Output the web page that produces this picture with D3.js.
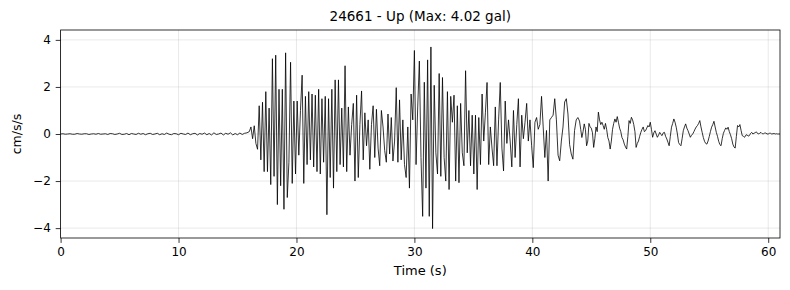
<!DOCTYPE html>
<html>
<head>
<meta charset="utf-8">
<script src="https://cdn.jsdelivr.net/npm/d3@7"></script>
<style>
  body { margin: 0; background: #fff; }
  svg text { font-family: "DejaVu Sans", sans-serif; fill: #000; }
</style>
</head>
<body>
<svg width="790" height="290"></svg>
<script>
// station / component shown in the title
var station = "24661", component = "Up", maxGal = 4.02;

// quiet pre-event noise, 0 - 16 s
var quietStart = 0, quietStep = 0.2;
var quietValues = [
  0.0, 0.01, -0.01, 0.0, 0.01, -0.01, -0.01, 0.02, 0.0, -0.01,
  0.01, 0.01, -0.02, 0.0, 0.01, -0.01, 0.02, -0.01, 0.0, 0.01,
  -0.02, 0.02, 0.01, -0.02, 0.0, 0.03, -0.02, -0.01, 0.02, -0.03,
  0.02, 0.0, -0.02, 0.03, -0.01, 0.02, -0.03, 0.01, 0.03, -0.02,
  0.0, 0.03, -0.03, 0.01, -0.02, 0.04, -0.01, -0.03, 0.02, 0.01,
  -0.03, 0.03, 0.0, -0.02, 0.04, -0.03, 0.01, 0.03, -0.04, 0.02,
  -0.01, 0.04, -0.03, 0.02, -0.04, 0.05, -0.02, 0.0, 0.04, -0.04,
  0.03, -0.01, 0.05, -0.04, 0.02, -0.03, 0.04, -0.02, 0.03, 0.05
];

// strong shaking, 16 - 44 s
var strongStart = 16, strongStep = 0.14;
var strongValues = [
  0.1, 0.3, -0.2, 0.35, -0.4, -0.65, 1.2, -1.1, 1.35, -1.6,
  1.8, -1.6, 1.1, -2.15, 3.2, -1.8, 3.35, -3.0, 1.9, -2.2,
  1.9, -3.2, 3.45, -2.7, -1.2, 3.05, -2.1, 1.4, -1.7, 1.4,
  -0.9, 1.0, 2.5, -2.1, 1.6, -1.3, 1.8, -1.1, 1.7, -1.4,
  1.65, -1.6, 1.9, -1.7, 1.5, -1.2, 1.6, -3.43, 1.5, -1.85,
  1.9, -2.3, 2.3, -1.6, 2.3, -1.3, 1.1, -1.4, 2.9, -1.6,
  1.15, -0.9, 0.4, 1.3, -2.0, 1.65, -1.85, 0.4, 1.83, -1.1,
  0.9, -0.5, 0.6, -1.5, 0.4, 1.2, -1.0, 1.05, -0.6, -1.35,
  1.0, 0.3, -0.7, -1.2, 0.85, -0.85, 0.7, -1.15, -0.3, 1.97,
  -1.2, 1.45, -1.1, 0.6, -1.3, -1.85, 0.3, -2.3, 1.7, 0.6,
  3.55, -1.3, 1.15, 3.1, -1.0, -3.5, 2.2, -2.3, 3.15, -3.5,
  3.7, -4.02, 2.07, -0.8, -1.7, 2.57, -1.8, 2.4, -1.0, -2.0,
  1.8, -2.36, 1.6, 0.5, 1.65, -2.0, 1.2, -2.07, 1.3, -0.8,
  -1.35, 2.69, -0.8, 1.0, -1.35, 0.8, -1.7, 0.8, -2.36, 0.7,
  -1.3, 1.7, -0.3, 0.9, 2.19, -1.3, 0.3, -0.6, -1.35, 1.15,
  -1.35, 0.6, 2.19, -0.6, -1.57, 1.4, -0.4, 0.6, -0.3, -1.4,
  1.0, -1.0, 0.4, 1.5, -1.4, 0.8, -0.2, 0.5, 1.3, -0.3,
  0.6, -0.5, -1.43, 0.5, 0.7, 0.2, 0.4, 1.6, 0.3, -1.0,
  0.15, -2.0, 0.6, 0.7, 0.8, 1.5, 0.6, -0.9, -1.14, -0.3,
  0.3, 1.36, 1.5, 0.85, -0.45, -0.85, -1.07, 0.15, 0.6, 0.7,
  0.55
];

// coda, 44.1 - 61 s
var codaStart = 44.1, codaStep = 0.1;
var codaValues = [
  0.2, -0.15, 0.1, 0.43, 0.2, -0.5, -0.3, 0.45, 0.3, 0.25,
  0.05, -0.57, -0.2, 0.3, 0.1, 0.93, 0.6, 0.4, 0.5, 0.36,
  0.2, 0.45, 0.2, -0.15, -0.3, -0.64, -0.3, 0.2, 0.45, 0.64,
  0.5, 0.74, 0.5, 0.25, 0.1, -0.15, -0.25, -0.43, -0.55, -0.64,
  -0.1, 0.57, 0.45, 0.71, 0.6, 0.4, 0.1, -0.57, -0.4, -0.3,
  -0.1, 0.07, 0.2, 0.3, 0.1, 0.14, 0.25, 0.36, 0.3, 0.5,
  0.2, -0.14, 0.05, 0.14, 0.0, -0.14, -0.05, 0.07, -0.02, -0.07,
  0.05, 0.07, -0.1, -0.21, -0.35, -0.5, -0.1, 0.29, 0.45, 0.64,
  0.5, 0.29, 0.0, -0.36, -0.45, -0.5, -0.2, 0.14, 0.3, 0.43,
  0.25, 0.14, 0.0, -0.14, -0.05, 0.0, 0.1, 0.21, 0.3, 0.36,
  0.45, 0.57, 0.3, 0.07, -0.15, -0.31, -0.4, -0.43, -0.3, -0.11,
  0.1, 0.29, 0.4, 0.54, 0.3, 0.07, -0.1, -0.31, -0.45, -0.5,
  -0.2, 0.03, 0.15, 0.26, 0.2, 0.29, 0.1, -0.03, -0.2, -0.43,
  -0.55, -0.6, -0.1, 0.36, 0.3, 0.4, 0.15, -0.07, -0.1, -0.14,
  -0.05, -0.03, -0.09, -0.07, 0.02, 0.07, 0.0, 0.03, 0.06, 0.09,
  0.02, 0.0, 0.05, 0.06, 0.01, 0.01, 0.04, 0.04, 0.0, 0.0,
  0.03, 0.03, 0.0, 0.01, 0.02, 0.0, 0.01, 0.0, 0.0, 0.0
];

var xTicks = [0, 10, 20, 30, 40, 50, 60];
var yTicks = [-4, -2, 0, 2, 4];

// set the dimensions and margins of the graph
var margin = {top: 30, right: 10, bottom: 52, left: 60.6},
    width = 790 - margin.left - margin.right,
    height = 290 - margin.top - margin.bottom;

var xScale = d3.scaleLinear().domain([0, 61]).range([0, width]);
var yScale = d3.scaleLinear().domain([-4.42, 4.42]).range([height, 0]);

// put the three pieces together as one trace
var trace = [];
function addSegment(start, step, values) {
  values.forEach(function(v, i) {
    trace.push({t: start + i * step, v: v});
  });
}
addSegment(quietStart, quietStep, quietValues);
addSegment(strongStart, strongStep, strongValues);
addSegment(codaStart, codaStep, codaValues);

var svg = d3.select("svg")
  .append("g")
    .attr("transform", "translate(" + margin.left + "," + margin.top + ")");

// grid
svg.append("g").selectAll("line")
    .data(xTicks)
  .enter().append("line")
    .attr("x1", function(d) { return xScale(d); })
    .attr("x2", function(d) { return xScale(d); })
    .attr("y1", 0).attr("y2", height)
    .style("stroke", "#b0b0b0").style("stroke-opacity", 0.35).style("stroke-width", 0.8);

svg.append("g").selectAll("line")
    .data(yTicks)
  .enter().append("line")
    .attr("x1", 0).attr("x2", width)
    .attr("y1", function(d) { return yScale(d); })
    .attr("y2", function(d) { return yScale(d); })
    .style("stroke", "#b0b0b0").style("stroke-opacity", 0.35).style("stroke-width", 0.8);

svg.append("clipPath").attr("id", "plotclip")
  .append("rect").attr("width", width).attr("height", height);

var valueline = d3.line()
    .x(function(d) { return xScale(d.t); })
    .y(function(d) { return yScale(d.v); });

svg.append("path")
    .datum(trace)
    .attr("clip-path", "url(#plotclip)")
    .attr("d", valueline)
    .style("fill", "none")
    .style("stroke", "#000")
    .style("stroke-width", 0.8)
    .style("stroke-linejoin", "round");

// axes
var xAxis = svg.append("g")
    .attr("transform", "translate(0," + height + ")")
    .call(d3.axisBottom(xScale).tickValues(xTicks).tickSize(4.9).tickPadding(4.9));
var yAxis = svg.append("g")
    .call(d3.axisLeft(yScale).tickValues(yTicks).tickSize(4.9).tickPadding(4.9));

[xAxis, yAxis].forEach(function(a) {
  a.select(".domain").remove();
  a.selectAll(".tick line").style("stroke", "#000").style("stroke-width", 0.8);
  a.selectAll(".tick text")
    .style("font-family", "DejaVu Sans, sans-serif")
    .style("font-size", "12px")
    .style("fill", "#000");
});

// frame
svg.append("rect")
    .attr("width", width).attr("height", height)
    .style("fill", "none").style("stroke", "#000").style("stroke-width", 0.8);

// labels
svg.append("text")
    .attr("x", width / 2).attr("y", -9)
    .attr("text-anchor", "middle")
    .style("font-size", "13.5px")
    .text(station + " - " + component + " (Max: " + maxGal.toFixed(2) + " gal)");

svg.append("text")
    .attr("x", width / 2).attr("y", height + 37)
    .attr("text-anchor", "middle")
    .style("font-size", "13px")
    .text("Time (s)");

svg.append("text")
    .attr("transform", "translate(" + (21 - margin.left) + "," + (height / 2) + ") rotate(-90)")
    .attr("text-anchor", "middle")
    .style("font-size", "12.5px")
    .text("cm/s/s");
</script>
</body>
</html>
